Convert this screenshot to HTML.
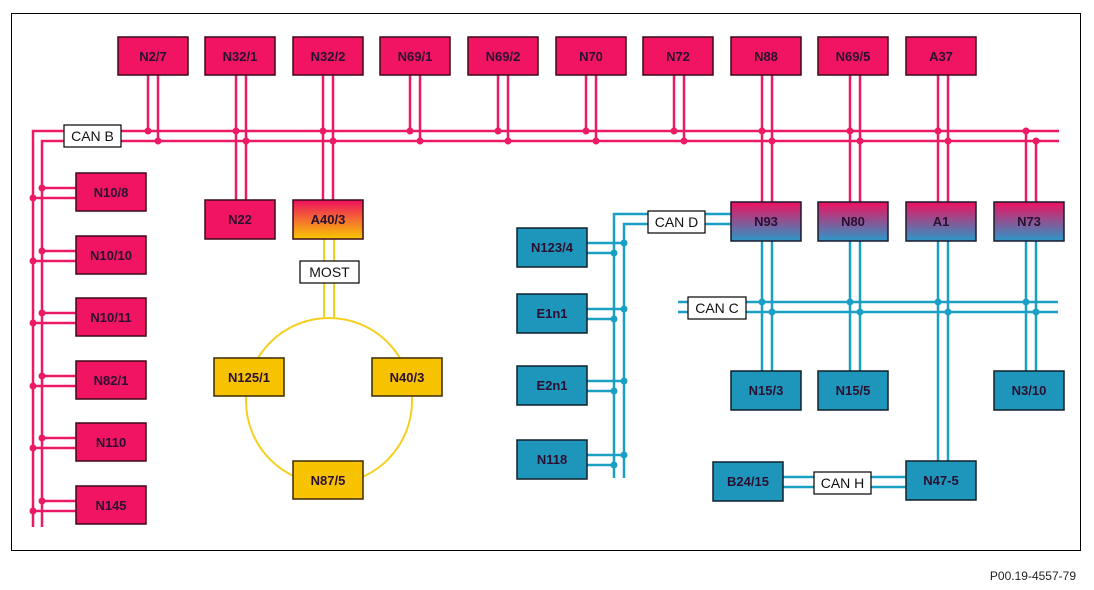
<!DOCTYPE html>
<html><head><meta charset="utf-8"><style>
body{margin:0;background:#fff;}
svg{display:block;font-family:"Liberation Sans",sans-serif;}
.bx{font-weight:bold;font-size:13px;fill:#2a1030;text-anchor:middle;}
.lb{font-size:14px;fill:#111;text-anchor:middle;}
</style></head><body>
<svg width="1094" height="590" viewBox="0 0 1094 590" xmlns="http://www.w3.org/2000/svg">
<defs>
<linearGradient id="ga" x1="0" y1="0" x2="0" y2="1"><stop offset="0" stop-color="#f01060"/><stop offset="1" stop-color="#f7c800"/></linearGradient>
<linearGradient id="gb" x1="0" y1="0" x2="0" y2="1"><stop offset="0" stop-color="#f01060"/><stop offset="1" stop-color="#2a98c8"/></linearGradient>
</defs>
<rect x="11.5" y="13.5" width="1069" height="537" fill="none" stroke="#000" stroke-width="1"/>
<text x="1076" y="580" font-size="12" text-anchor="end" fill="#222">P00.19-4557-79</text>

<!-- CAN B pink lines -->
<g stroke="#ec1a66" stroke-width="2.5" fill="none">
<polyline points="33,527 33,131 1059,131"/>
<polyline points="42,527 42,141 1059,141"/>
<!-- top box drops -->
<line x1="148" y1="75" x2="148" y2="131"/><line x1="158" y1="75" x2="158" y2="141"/>
<line x1="236" y1="75" x2="236" y2="200"/><line x1="246" y1="75" x2="246" y2="200"/>
<line x1="323" y1="75" x2="323" y2="200"/><line x1="333" y1="75" x2="333" y2="200"/>
<line x1="410" y1="75" x2="410" y2="131"/><line x1="420" y1="75" x2="420" y2="141"/>
<line x1="498" y1="75" x2="498" y2="131"/><line x1="508" y1="75" x2="508" y2="141"/>
<line x1="586" y1="75" x2="586" y2="131"/><line x1="596" y1="75" x2="596" y2="141"/>
<line x1="674" y1="75" x2="674" y2="131"/><line x1="684" y1="75" x2="684" y2="141"/>
<line x1="762" y1="75" x2="762" y2="203"/><line x1="772" y1="75" x2="772" y2="203"/>
<line x1="850" y1="75" x2="850" y2="203"/><line x1="860" y1="75" x2="860" y2="203"/>
<line x1="938" y1="75" x2="938" y2="203"/><line x1="948" y1="75" x2="948" y2="203"/>
<line x1="1026" y1="131" x2="1026" y2="203"/><line x1="1036" y1="141" x2="1036" y2="203"/>
<!-- left branches -->
<line x1="42" y1="188" x2="76" y2="188"/><line x1="33" y1="198" x2="76" y2="198"/>
<line x1="42" y1="251" x2="76" y2="251"/><line x1="33" y1="261" x2="76" y2="261"/>
<line x1="42" y1="313" x2="76" y2="313"/><line x1="33" y1="323" x2="76" y2="323"/>
<line x1="42" y1="376" x2="76" y2="376"/><line x1="33" y1="386" x2="76" y2="386"/>
<line x1="42" y1="438" x2="76" y2="438"/><line x1="33" y1="448" x2="76" y2="448"/>
<line x1="42" y1="501" x2="76" y2="501"/><line x1="33" y1="511" x2="76" y2="511"/>
</g>
<g fill="#ec1a66">
<circle cx="148" cy="131" r="3.5"/><circle cx="158" cy="141" r="3.5"/>
<circle cx="236" cy="131" r="3.5"/><circle cx="246" cy="141" r="3.5"/>
<circle cx="323" cy="131" r="3.5"/><circle cx="333" cy="141" r="3.5"/>
<circle cx="410" cy="131" r="3.5"/><circle cx="420" cy="141" r="3.5"/>
<circle cx="498" cy="131" r="3.5"/><circle cx="508" cy="141" r="3.5"/>
<circle cx="586" cy="131" r="3.5"/><circle cx="596" cy="141" r="3.5"/>
<circle cx="674" cy="131" r="3.5"/><circle cx="684" cy="141" r="3.5"/>
<circle cx="762" cy="131" r="3.5"/><circle cx="772" cy="141" r="3.5"/>
<circle cx="850" cy="131" r="3.5"/><circle cx="860" cy="141" r="3.5"/>
<circle cx="938" cy="131" r="3.5"/><circle cx="948" cy="141" r="3.5"/>
<circle cx="1026" cy="131" r="3.5"/><circle cx="1036" cy="141" r="3.5"/>
<circle cx="42" cy="188" r="3.5"/><circle cx="33" cy="198" r="3.5"/>
<circle cx="42" cy="251" r="3.5"/><circle cx="33" cy="261" r="3.5"/>
<circle cx="42" cy="313" r="3.5"/><circle cx="33" cy="323" r="3.5"/>
<circle cx="42" cy="376" r="3.5"/><circle cx="33" cy="386" r="3.5"/>
<circle cx="42" cy="438" r="3.5"/><circle cx="33" cy="448" r="3.5"/>
<circle cx="42" cy="501" r="3.5"/><circle cx="33" cy="511" r="3.5"/>
</g>

<!-- MOST yellow -->
<g stroke="#f5d020" stroke-width="2" fill="none">
<line x1="324" y1="239" x2="324" y2="318"/><line x1="334" y1="239" x2="334" y2="318"/>
<circle cx="329" cy="401" r="83"/>
</g>

<!-- blue lines -->
<g stroke="#1aa0c4" stroke-width="2.5" fill="none">
<polyline points="614,478 614,214 731,214"/>
<polyline points="624,478 624,224 731,224"/>
<line x1="587" y1="243" x2="624" y2="243"/><line x1="587" y1="253" x2="614" y2="253"/>
<line x1="587" y1="309" x2="624" y2="309"/><line x1="587" y1="319" x2="614" y2="319"/>
<line x1="587" y1="381" x2="624" y2="381"/><line x1="587" y1="391" x2="614" y2="391"/>
<line x1="587" y1="455" x2="624" y2="455"/><line x1="587" y1="465" x2="614" y2="465"/>
<line x1="678" y1="302" x2="1058" y2="302"/><line x1="678" y1="312" x2="1058" y2="312"/>
<line x1="762" y1="241" x2="762" y2="371"/><line x1="772" y1="241" x2="772" y2="371"/>
<line x1="850" y1="241" x2="850" y2="371"/><line x1="860" y1="241" x2="860" y2="371"/>
<line x1="938" y1="241" x2="938" y2="461"/><line x1="948" y1="241" x2="948" y2="461"/>
<line x1="1026" y1="241" x2="1026" y2="371"/><line x1="1036" y1="241" x2="1036" y2="371"/>
<line x1="783" y1="477" x2="906" y2="477"/><line x1="783" y1="487" x2="906" y2="487"/>
</g>
<g fill="#1aa0c4">
<circle cx="624" cy="243" r="3.5"/><circle cx="614" cy="253" r="3.5"/>
<circle cx="624" cy="309" r="3.5"/><circle cx="614" cy="319" r="3.5"/>
<circle cx="624" cy="381" r="3.5"/><circle cx="614" cy="391" r="3.5"/>
<circle cx="624" cy="455" r="3.5"/><circle cx="614" cy="465" r="3.5"/>
<circle cx="762" cy="302" r="3.5"/><circle cx="772" cy="312" r="3.5"/>
<circle cx="850" cy="302" r="3.5"/><circle cx="860" cy="312" r="3.5"/>
<circle cx="938" cy="302" r="3.5"/><circle cx="948" cy="312" r="3.5"/>
<circle cx="1026" cy="302" r="3.5"/><circle cx="1036" cy="312" r="3.5"/>
</g>

<!-- labels -->
<g stroke="#000" stroke-width="1.2" fill="#fff">
<rect x="64" y="125" width="57" height="22"/>
<rect x="300" y="261" width="59" height="22"/>
<rect x="648" y="211" width="57" height="22"/>
<rect x="688" y="297" width="58" height="22"/>
<rect x="814" y="472" width="57" height="22"/>
</g>
<text class="lb" x="92.5" y="141">CAN B</text>
<text class="lb" x="329.5" y="277">MOST</text>
<text class="lb" x="676.5" y="227">CAN D</text>
<text class="lb" x="717" y="313">CAN C</text>
<text class="lb" x="842.5" y="488">CAN H</text>

<!-- pink boxes -->
<g fill="#f01462" stroke="#3a0a1a" stroke-width="1.5">
<rect x="118" y="37" width="70" height="38"/><rect x="205" y="37" width="70" height="38"/>
<rect x="293" y="37" width="70" height="38"/><rect x="380" y="37" width="70" height="38"/>
<rect x="468" y="37" width="70" height="38"/><rect x="556" y="37" width="70" height="38"/>
<rect x="643" y="37" width="70" height="38"/><rect x="731" y="37" width="70" height="38"/>
<rect x="818" y="37" width="70" height="38"/><rect x="906" y="37" width="70" height="38"/>
<rect x="205" y="200" width="70" height="39"/>
<rect x="76" y="173" width="70" height="38"/><rect x="76" y="236" width="70" height="38"/>
<rect x="76" y="298" width="70" height="38"/><rect x="76" y="361" width="70" height="38"/>
<rect x="76" y="423" width="70" height="38"/><rect x="76" y="486" width="70" height="38"/>
</g>
<rect x="293" y="200" width="70" height="39" fill="url(#ga)" stroke="#3a0a1a" stroke-width="1.5"/>
<g fill="url(#gb)" stroke="#1a1a30" stroke-width="1.5">
<rect x="731" y="202" width="70" height="39"/><rect x="818" y="202" width="70" height="39"/>
<rect x="906" y="202" width="70" height="39"/><rect x="994" y="202" width="70" height="39"/>
</g>
<g fill="#1e96bc" stroke="#10202a" stroke-width="1.5">
<rect x="517" y="228" width="70" height="39"/><rect x="517" y="294" width="70" height="39"/>
<rect x="517" y="366" width="70" height="39"/><rect x="517" y="440" width="70" height="39"/>
<rect x="731" y="371" width="70" height="39"/><rect x="818" y="371" width="70" height="39"/>
<rect x="994" y="371" width="70" height="39"/>
<rect x="713" y="462" width="70" height="39"/><rect x="906" y="461" width="70" height="39"/>
</g>
<g fill="#f7c300" stroke="#3a2a00" stroke-width="1.5">
<rect x="214" y="358" width="70" height="38"/><rect x="372" y="358" width="70" height="38"/>
<rect x="293" y="461" width="70" height="38"/>
</g>

<g class="bx">
<text x="153" y="61">N2/7</text><text x="240" y="61">N32/1</text><text x="328" y="61">N32/2</text>
<text x="415" y="61">N69/1</text><text x="503" y="61">N69/2</text><text x="591" y="61">N70</text>
<text x="678" y="61">N72</text><text x="766" y="61">N88</text><text x="853" y="61">N69/5</text>
<text x="941" y="61">A37</text>
<text x="240" y="224">N22</text><text x="328" y="224">A40/3</text>
<text x="111" y="197">N10/8</text><text x="111" y="260">N10/10</text><text x="111" y="322">N10/11</text>
<text x="111" y="385">N82/1</text><text x="111" y="447">N110</text><text x="111" y="510">N145</text>
<text x="766" y="226">N93</text><text x="853" y="226">N80</text><text x="941" y="226">A1</text><text x="1029" y="226">N73</text>
<text x="552" y="252">N123/4</text><text x="552" y="318">E1n1</text><text x="552" y="390">E2n1</text><text x="552" y="464">N118</text>
<text x="766" y="395">N15/3</text><text x="853" y="395">N15/5</text><text x="1029" y="395">N3/10</text>
<text x="748" y="486">B24/15</text><text x="941" y="485">N47-5</text>
<text x="249" y="382">N125/1</text><text x="407" y="382">N40/3</text><text x="328" y="485">N87/5</text>
</g>
</svg>
</body></html>
